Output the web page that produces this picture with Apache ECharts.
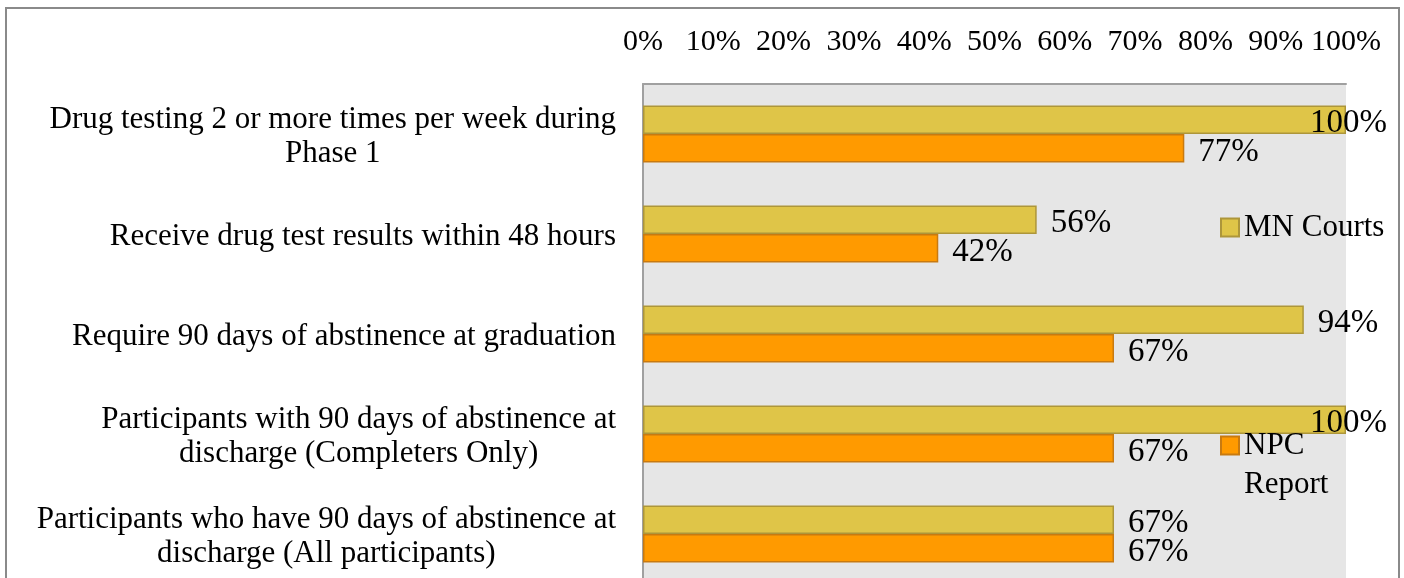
<!DOCTYPE html>
<html><head><meta charset="utf-8">
<script src="https://cdn.jsdelivr.net/npm/echarts@6/dist/echarts.min.js"></script>
<style>html,body{margin:0;padding:0;background:#fff}#c{width:1404px;height:578px}</style>
</head><body><div id="c"></div>
<script>
const categories = [
  'Drug testing 2 or more times per week during\nPhase 1',
  'Receive drug test results within 48 hours',
  'Require 90 days of abstinence at graduation',
  'Participants with 90 days of abstinence at\ndischarge (Completers Only)',
  'Participants who have 90 days of abstinence at\ndischarge (All participants)'
];
const seriesNames = ['MN Courts', 'NPC Report'];
const mnCourts = [100, 56, 94, 100, 67];
const npcReport = [77, 42, 67, 67, 67];
const axisMin = 0, axisMax = 100, axisStep = 10;

const FONT = 'Liberation Serif';
const toItems = arr => arr.map(v => v >= 100 ? { value: v, label: { offset: [-50, 4] } } : { value: v });

const chart = echarts.init(document.getElementById('c'), null, { renderer: 'canvas' });
const labelCfg = {
  show: true, position: 'right', distance: 14, offset: [0, 4],
  fontFamily: FONT, fontSize: 33, color: '#000',
  formatter: p => p.value + '%'
};
chart.setOption({
  animation: false,
  backgroundColor: '#fff',
  textStyle: { fontFamily: FONT },
  graphic: [{
    type: 'rect', silent: true,
    shape: { x: 6, y: 8, width: 1393, height: 620 },
    style: { fill: 'none', stroke: '#8a8a8a', lineWidth: 2 }
  }],
  grid: {
    left: 643, top: 84, width: 703, height: 500,
    outerBoundsMode: 'none',
    show: true, backgroundColor: '#e6e6e6', borderWidth: 0, containLabel: false
  },
  legend: [{
    data: [seriesNames[0]], left: 1220, top: 212, padding: 0,
    icon: 'rect', itemWidth: 18, itemHeight: 18, selectedMode: false,
    textStyle: { fontFamily: FONT, fontSize: 31, color: '#000' }
  }, {
    data: [seriesNames[1]], left: 1220, top: 387, padding: 0,
    icon: 'rect', itemWidth: 18, itemHeight: 18, selectedMode: false,
    formatter: n => '\n' + n.replace(' ', '\n'),
    textStyle: { fontFamily: FONT, fontSize: 31, color: '#000', lineHeight: 39 }
  }],
  xAxis: {
    type: 'value', position: 'top', min: axisMin, max: axisMax, interval: axisStep,
    axisLine: { show: true, lineStyle: { color: '#a0a0a0', width: 2 } },
    axisTick: { show: false },
    splitLine: { show: false },
    axisLabel: {
      margin: 27, fontFamily: FONT, fontSize: 30, color: '#000',
      formatter: '{value}%', showMinLabel: true, showMaxLabel: true, hideOverlap: false
    }
  },
  yAxis: {
    type: 'category', data: categories, inverse: true,
    axisLine: { show: true, lineStyle: { color: '#a0a0a0', width: 2 } },
    axisTick: { show: false },
    axisLabel: {
      interval: 0, margin: 27, color: '#000', fontFamily: FONT, fontSize: 31, lineHeight: 34,
      formatter: v => '{c|' + v + '}',
      rich: { c: { align: 'center', fontFamily: FONT, fontSize: 31, lineHeight: 34, color: '#000', padding: [6, 0, 0, 0] } }
    }
  },
  series: [{
    name: seriesNames[0], type: 'bar', data: toItems(mnCourts),
    barWidth: 28.5, barGap: '0%',
    itemStyle: { color: '#dfc548', borderColor: '#ad963a', borderWidth: 1.5 },
    label: labelCfg
  }, {
    name: seriesNames[1], type: 'bar', data: toItems(npcReport),
    barWidth: 28.5, barGap: '0%',
    itemStyle: { color: '#ff9a00', borderColor: '#c87a10', borderWidth: 1.5 },
    label: labelCfg
  }]
});
</script>
</body></html>
